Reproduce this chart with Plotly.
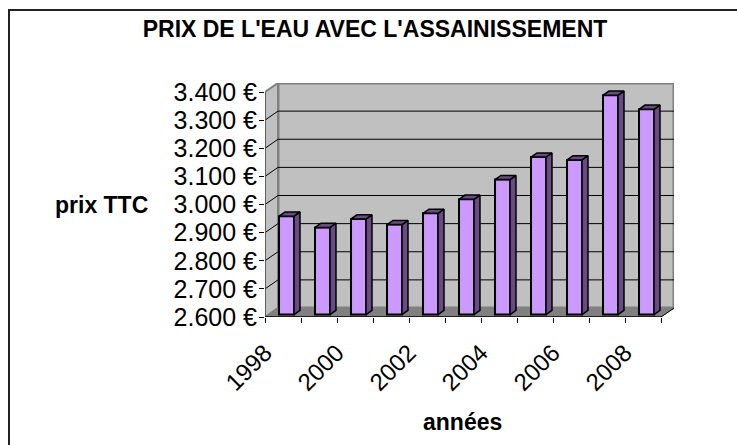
import plotly.graph_objects as go

# ---------------- data ----------------
years = [1998, 1999, 2000, 2001, 2002, 2003, 2004, 2005, 2006, 2007, 2008]
prices = [2.95, 2.91, 2.94, 2.92, 2.96, 3.01, 3.08, 3.16, 3.15, 3.38, 3.33]
x_tick_years = [1998, 2000, 2002, 2004, 2006, 2008]
x_tick_labels = ["1998", "2000", "2002", "2004", "2006", "2008"]
y_ticks = [2.6, 2.7, 2.8, 2.9, 3.0, 3.1, 3.2, 3.3, 3.4]
y_tick_labels = ["2.600 €", "2.700 €", "2.800 €", "2.900 €", "3.000 €",
                 "3.100 €", "3.200 €", "3.300 €", "3.400 €"]
title_text = "PRIX DE L'EAU AVEC L'ASSAINISSEMENT"
y_title_text = "prix TTC"
x_title_text = "années"

# ---------------- geometry / style ----------------
W, H = 737, 445
ML, MR, MT, MB = 265, 63, 83, 128
plot_w = W - ML - MR
plot_h = H - MT - MB
DEPTH_PX = (13, 9)            # 3D depth of the floor in pixels
n = len(years)
ppc = (plot_w - DEPTH_PX[0]) / n                    # px per category
ppv = (plot_h - DEPTH_PX[1]) / (y_ticks[-1] - y_ticks[0])  # px per value unit
ddx = DEPTH_PX[0] / ppc
ddy = DEPTH_PX[1] / ppv
x_lo, x_hi = -0.5, n - 0.5
y_lo, y_hi = y_ticks[0], y_ticks[-1]

F0 = 0.27     # depth position of bar front face
G = 0.46      # bar depth (fraction of floor depth)
BW = 15 / ppc  # bar width in category units

FONT = "Liberation Sans, Arial, sans-serif"
FRONT = "#cc99ff"
DARK = "#664c80"
WALL = "#c0c0c0"
WALL_EDGE = "#808080"
FLOOR = "#808080"

xi = list(range(n))
centers = [i + F0 * ddx for i in xi]
base = y_lo + F0 * ddy
heights = [p - y_lo for p in prices]
tops = [base + h for h in heights]

fig = go.Figure()

# front faces
fig.add_trace(go.Bar(
    x=centers, y=heights, base=[base] * n, width=[BW] * n,
    marker=dict(color=FRONT, line=dict(color="black", width=2)),
    hoverinfo="skip", showlegend=False,
))

# side and top faces
bdx, bdy = G * ddx, G * ddy
sx, sy, tx, ty = [], [], [], []
for c, t in zip(centers, tops):
    xl, xr = c - BW / 2, c + BW / 2
    sx += [xr, xr + bdx, xr + bdx, xr, xr, None]
    sy += [base, base + bdy, t + bdy, t, base, None]
    tx += [xl, xl + bdx, xr + bdx, xr, xl, None]
    ty += [t, t + bdy, t + bdy, t, t, None]
for px_, py_ in ((sx, sy), (tx, ty)):
    fig.add_trace(go.Scatter(
        x=px_, y=py_, mode="lines", fill="toself", fillcolor=DARK,
        line=dict(color="black", width=1.5), hoverinfo="skip", showlegend=False,
    ))

shapes = []
# back wall
shapes.append(dict(type="rect", xref="x", yref="y", layer="below",
                   x0=x_lo + ddx, x1=x_hi + ddx, y0=y_lo + ddy, y1=y_hi + ddy,
                   fillcolor=WALL, line=dict(color=WALL_EDGE, width=3)))
# left wall
shapes.append(dict(type="path", xref="x", yref="y", layer="below",
                   path=f"M {x_lo},{y_lo} L {x_lo + ddx},{y_lo + ddy} L {x_lo + ddx},{y_hi + ddy} L {x_lo},{y_hi} Z",
                   fillcolor=WALL, line=dict(color=WALL_EDGE, width=2)))
# floor
shapes.append(dict(type="path", xref="x", yref="y", layer="below",
                   path=f"M {x_lo},{y_lo} L {x_hi},{y_lo} L {x_hi + ddx},{y_lo + ddy} L {x_lo + ddx},{y_lo + ddy} Z",
                   fillcolor=FLOOR, line=dict(color=FLOOR, width=1)))
# gridlines on back and left walls
for t in y_ticks[1:-1]:
    shapes.append(dict(type="line", xref="x", yref="y", layer="below",
                       x0=x_lo + ddx, x1=x_hi + ddx, y0=t + ddy, y1=t + ddy,
                       line=dict(color="black", width=1)))
    shapes.append(dict(type="line", xref="x", yref="y", layer="below",
                       x0=x_lo, x1=x_lo + ddx, y0=t, y1=t + ddy,
                       line=dict(color="black", width=1)))
# front axis lines
shapes.append(dict(type="line", xref="x", yref="y", layer="above",
                   x0=x_lo, x1=x_lo, y0=y_lo, y1=y_hi,
                   line=dict(color="#555555", width=1.5)))
shapes.append(dict(type="line", xref="x", yref="y", layer="above",
                   x0=x_lo, x1=x_hi, y0=y_lo, y1=y_lo,
                   line=dict(color="black", width=1.5)))
shapes.append(dict(type="line", xref="x", yref="y", layer="above",
                   x0=x_hi, x1=x_hi + ddx, y0=y_lo, y1=y_lo + ddy,
                   line=dict(color="black", width=1)))
# outer chart border
shapes.append(dict(type="rect", xref="paper", yref="paper", layer="below",
                   x0=(9 - ML) / plot_w, x1=(W + 10 - ML) / plot_w,
                   y0=(H - MB - (H + 10)) / plot_h, y1=(H - MB - 10) / plot_h,
                   line=dict(color="#222222", width=2), fillcolor="rgba(0,0,0,0)"))

x_tick_pos = [years.index(y) for y in x_tick_years]
boundaries = [i - 0.5 for i in range(n + 1)]

fig.update_layout(
    width=W, height=H,
    margin=dict(l=ML, r=MR, t=MT, b=MB, autoexpand=False),
    paper_bgcolor="white", plot_bgcolor="rgba(0,0,0,0)",
    font=dict(family=FONT, color="black"),
    title=dict(text=title_text, xref="container", yref="container",
               x=375 / W, y=1 - 28.5 / H, xanchor="center", yanchor="middle",
               font=dict(family=FONT, size=23, weight="bold", color="black")),
    xaxis=dict(range=[x_lo, x_hi + ddx], tickvals=x_tick_pos, ticktext=x_tick_labels,
               tickangle=-45, ticks="", showgrid=False, zeroline=False, showline=False,
               ticklabelstandoff=16, ticklabelshift=-18, automargin=False,
               tickfont=dict(family=FONT, size=24), fixedrange=True),
    xaxis2=dict(range=[x_lo, x_hi + ddx], overlaying="x", anchor="y", side="bottom",
                tickvals=boundaries, ticks="outside", ticklen=5, tickwidth=1,
                tickcolor="black", showticklabels=False, showgrid=False,
                zeroline=False, showline=False, automargin=False),
    yaxis=dict(range=[y_lo, y_hi + ddy], tickvals=y_ticks, ticktext=y_tick_labels,
               ticks="outside", ticklen=5, tickwidth=1, tickcolor="black",
               showgrid=False, zeroline=False, showline=False, automargin=False,
               ticklabelstandoff=-3,
               tickfont=dict(family=FONT, size=25), fixedrange=True),
    shapes=shapes,
    showlegend=False,
    annotations=[
        dict(text=y_title_text, xref="paper", yref="y", x=(53 - ML) / plot_w, y=3.0,
             xanchor="left", yanchor="middle", showarrow=False,
             font=dict(family=FONT, size=23, weight="bold")),
        dict(text=x_title_text, xref="paper", yref="paper", x=(462 - ML) / plot_w,
             y=(H - MB - 422) / plot_h, xanchor="center", yanchor="middle", showarrow=False,
             font=dict(family=FONT, size=23, weight="bold")),
    ],
)
# invisible trace to activate xaxis2
fig.add_trace(go.Scatter(x=[x_lo], y=[y_lo], xaxis="x2", mode="markers",
                         marker=dict(opacity=0), hoverinfo="skip", showlegend=False))

fig.write_html(
    "out.html",
    config={"displayModeBar": False, "staticPlot": True},
    post_script="document.body.style.margin='0';document.body.style.overflow='hidden';",
)
